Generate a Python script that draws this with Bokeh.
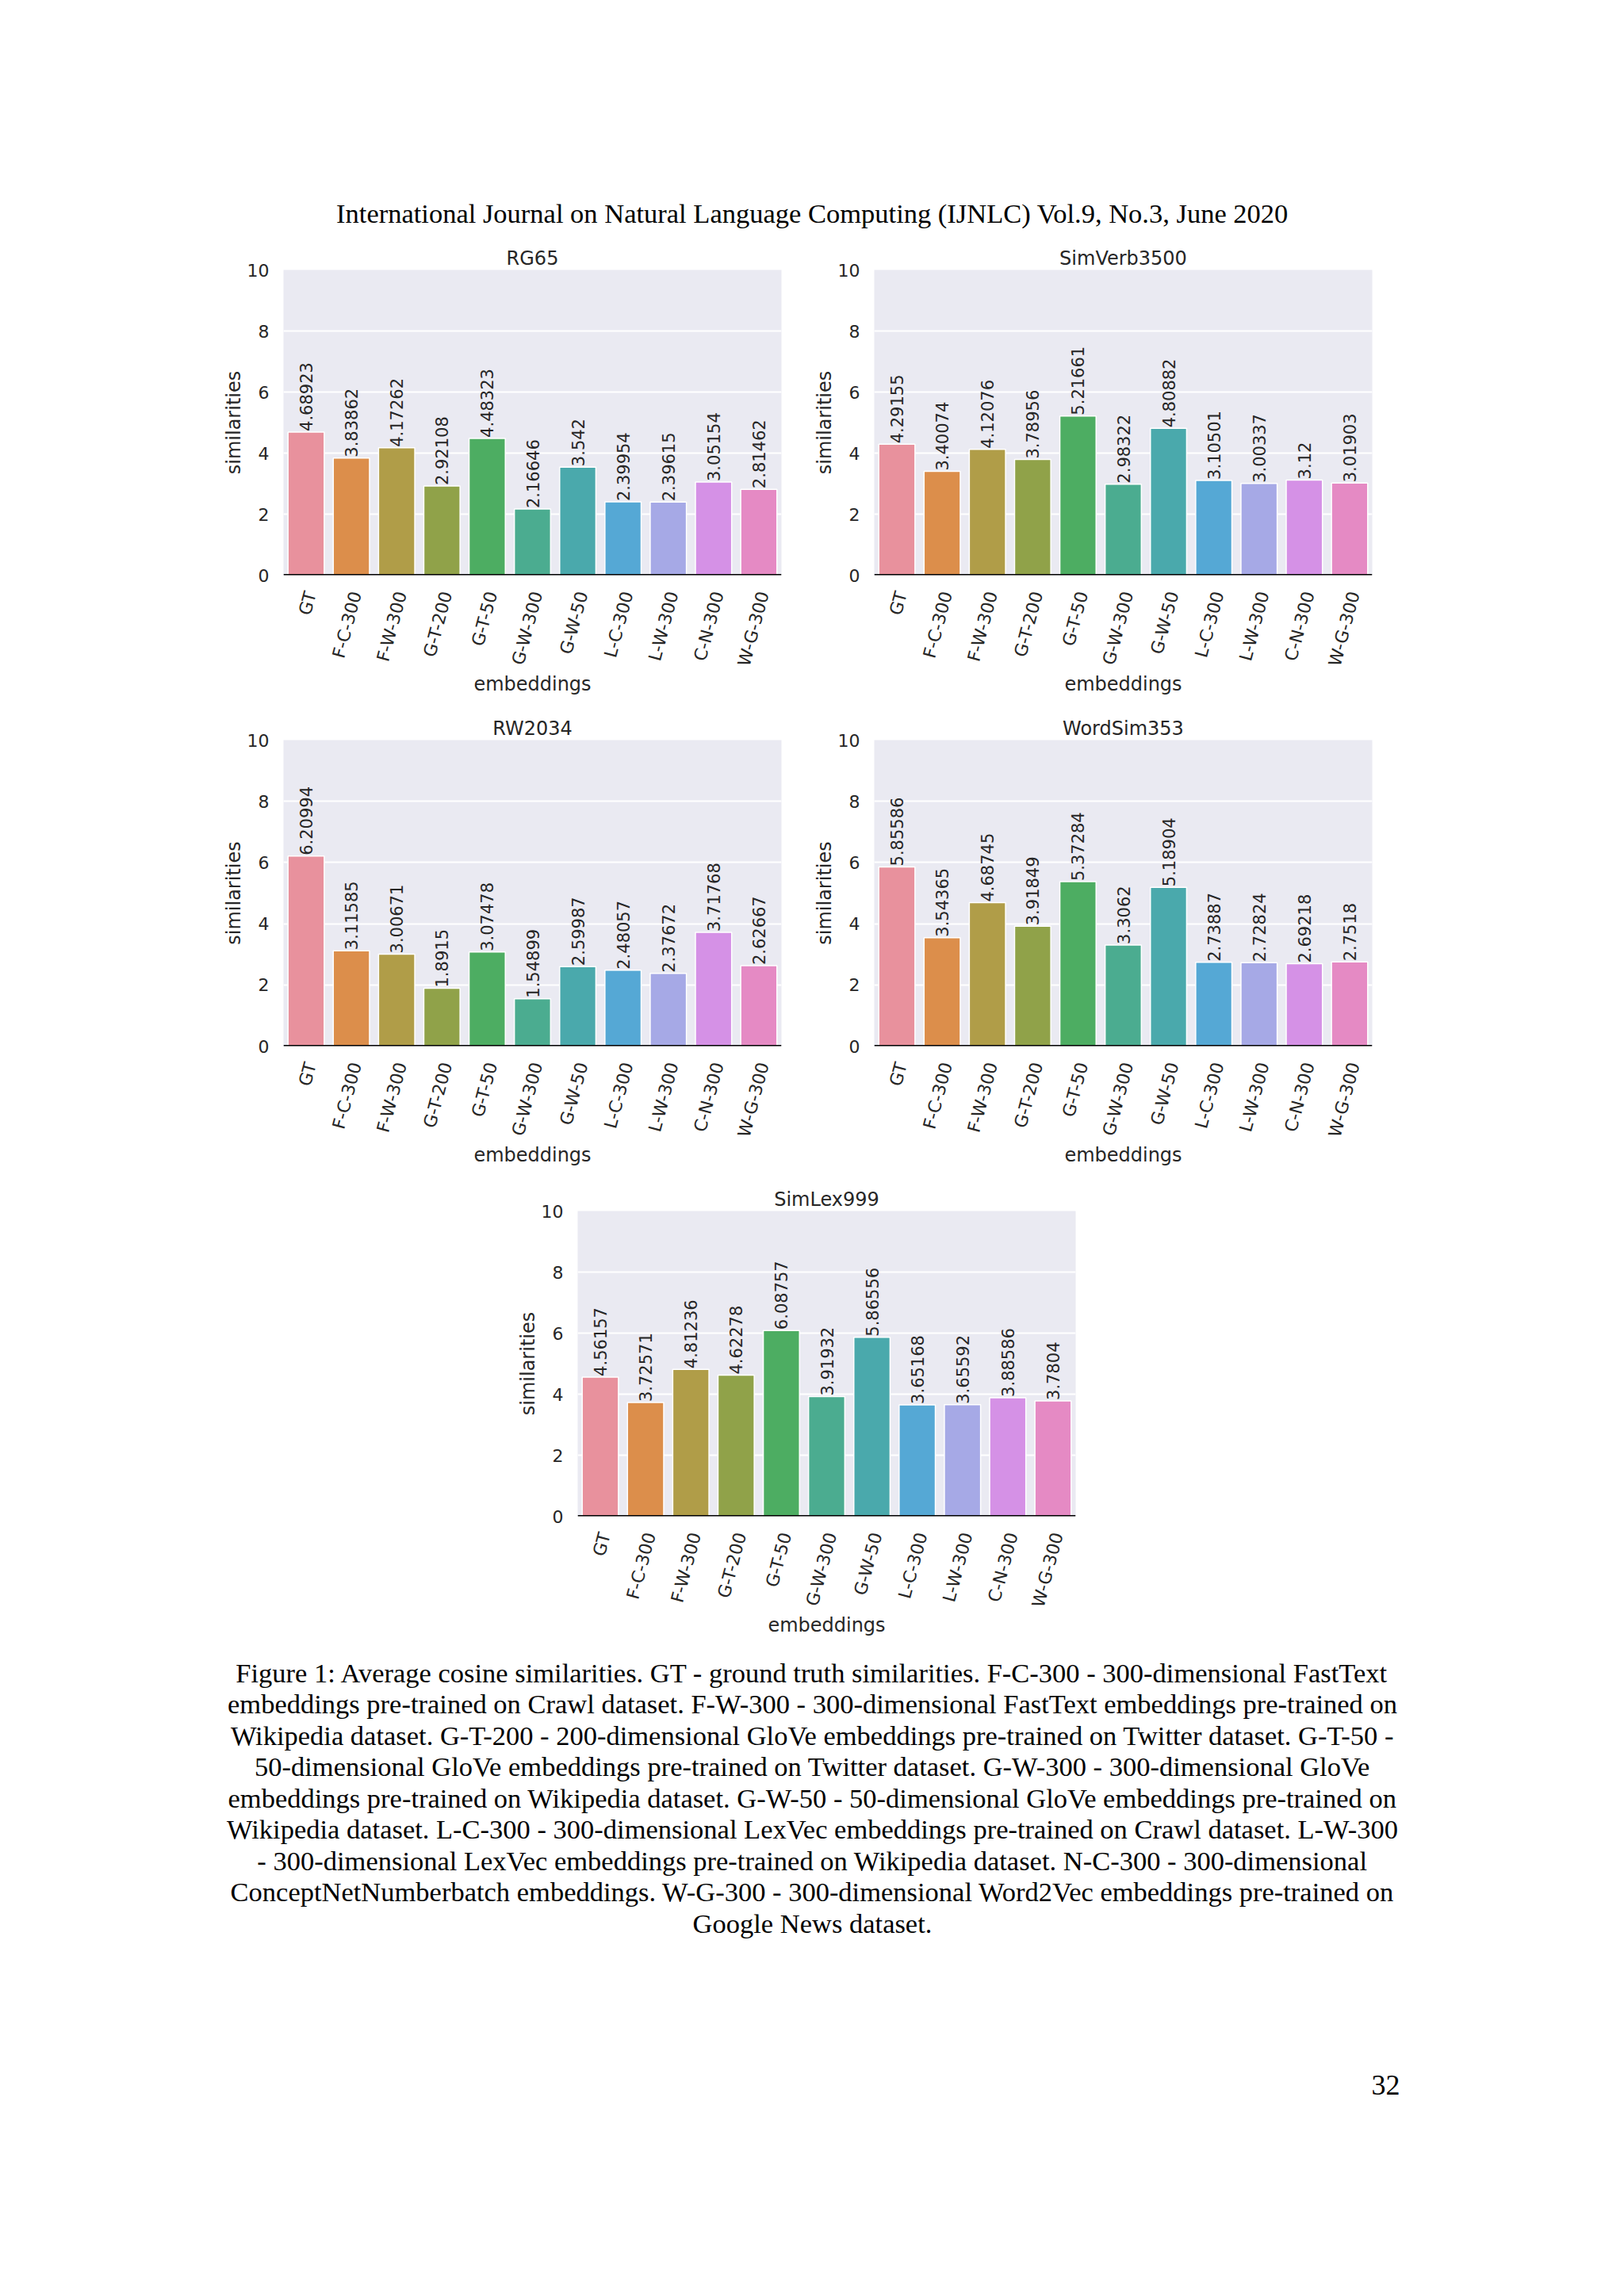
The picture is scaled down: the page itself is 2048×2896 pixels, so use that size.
import math
from bokeh.plotting import figure
from bokeh.models import Range1d, FixedTicker, CustomJSTickFormatter, Span, ColumnDataSource
from bokeh.layouts import column, row
from bokeh.embed import file_html
from bokeh.resources import INLINE
from bokeh.core.properties import value

# ---------------- data ----------------
embeddings = ["GT", "F-C-300", "F-W-300", "G-T-200", "G-T-50", "G-W-300",
              "G-W-50", "L-C-300", "L-W-300", "C-N-300", "W-G-300"]

rg65 = [4.68923, 3.83862, 4.17262, 2.92108, 4.48323, 2.16646,
        3.542, 2.39954, 2.39615, 3.05154, 2.81462]
simverb3500 = [4.29155, 3.40074, 4.12076, 3.78956, 5.21661, 2.98322,
               4.80882, 3.10501, 3.00337, 3.12, 3.01903]
rw2034 = [6.20994, 3.11585, 3.00671, 1.8915, 3.07478, 1.54899,
          2.59987, 2.48057, 2.37672, 3.71768, 2.62667]
wordsim353 = [5.85586, 3.54365, 4.68745, 3.91849, 5.37284, 3.3062,
              5.18904, 2.73887, 2.72824, 2.69218, 2.7518]
simlex999 = [4.56157, 3.72571, 4.81236, 4.62278, 6.08757, 3.91932,
             5.86556, 3.65168, 3.65592, 3.88586, 3.7804]

y_ticks = [0, 2, 4, 6, 8, 10]

header_text = "International Journal on Natural Language Computing (IJNLC) Vol.9, No.3, June 2020"
caption_lines = [
    "Figure 1: Average cosine similarities. GT - ground truth similarities. F-C-300 - 300-dimensional FastText",
    "embeddings pre-trained on Crawl dataset. F-W-300 - 300-dimensional FastText embeddings pre-trained on",
    "Wikipedia dataset. G-T-200 - 200-dimensional GloVe embeddings pre-trained on Twitter dataset. G-T-50 -",
    "50-dimensional GloVe embeddings pre-trained on Twitter dataset. G-W-300 - 300-dimensional GloVe",
    "embeddings pre-trained on Wikipedia dataset. G-W-50 - 50-dimensional GloVe embeddings pre-trained on",
    "Wikipedia dataset. L-C-300 - 300-dimensional LexVec embeddings pre-trained on Crawl dataset. L-W-300",
    "- 300-dimensional LexVec embeddings pre-trained on Wikipedia dataset. N-C-300 - 300-dimensional",
    "ConceptNetNumberbatch embeddings. W-G-300 - 300-dimensional Word2Vec embeddings pre-trained on",
    "Google News dataset.",
]
page_number = "32"

# ---------------- style ----------------
bar_colors = ["#E8919D", "#DC8E4B", "#B09D48", "#90A249", "#4DAD62", "#4BAC90",
              "#4AA9AC", "#55A8D5", "#A6A9E6", "#D591E6", "#E58AC4"]
SANS = "DejaVu Sans"
SERIF = "Liberation Serif"
TXT = "#262626"
BG = "#EAEAF2"
PAGE_W = 2032
TICK_SHIFT = 0.1


def make_chart(title, vals, left, right, top, bottom, fw, fh):
    n = len(embeddings)
    p = figure(width=left + fw + right, height=top + fh + bottom,
               x_range=Range1d(-0.5, n - 0.5), y_range=Range1d(0, 10),
               output_backend="svg", toolbar_location=None,
               min_border_left=left, min_border_right=right,
               min_border_top=top, min_border_bottom=bottom)
    p.background_fill_color = BG
    p.border_fill_color = "white"
    p.outline_line_color = None

    p.title.text = title
    p.title.align = "center"
    p.title.text_font = SANS
    p.title.text_font_size = "24px"
    p.title.text_font_style = "normal"
    p.title.text_color = TXT
    p.title.standoff = 2

    src = ColumnDataSource(dict(x=list(range(n)), top=vals, color=bar_colors,
                                label=[str(v) for v in vals]))
    p.vbar(x="x", top="top", bottom=0, width=0.8, fill_color="color",
           line_color="white", line_width=1.5, source=src)
    p.text(x="x", y="top", text="label", angle=math.pi / 2, text_align="left",
           text_baseline="middle", text_font=value(SANS), text_font_size="21px",
           text_color=TXT, y_offset=-1, source=src)
    p.add_layout(Span(location=0, dimension="width", line_color="black", line_width=3))

    p.xgrid.visible = False
    p.ygrid.ticker = FixedTicker(ticks=y_ticks)
    p.ygrid.grid_line_color = "white"
    p.ygrid.grid_line_width = 2

    ya = p.yaxis[0]
    ya.ticker = FixedTicker(ticks=y_ticks)
    ya.axis_line_color = None
    ya.major_tick_line_color = None
    ya.major_tick_out = 0
    ya.major_tick_in = 0
    ya.minor_tick_line_color = None
    ya.minor_tick_out = 0
    ya.major_label_text_font = SANS
    ya.major_label_text_font_size = "22px"
    ya.major_label_text_color = TXT
    ya.major_label_standoff = 18
    ya.axis_label = "similarities"
    ya.axis_label_text_font = SANS
    ya.axis_label_text_font_size = "24px"
    ya.axis_label_text_font_style = "normal"
    ya.axis_label_text_color = TXT
    ya.axis_label_standoff = 0

    xa = p.xaxis[0]
    xa.ticker = FixedTicker(ticks=[i + TICK_SHIFT for i in range(n)])
    xa.formatter = CustomJSTickFormatter(args=dict(labels=embeddings, shift=TICK_SHIFT),
                                         code="return labels[Math.round(tick - shift)];")
    xa.major_label_orientation = math.radians(75)
    xa.axis_line_color = None
    xa.major_tick_line_color = None
    xa.major_tick_out = 0
    xa.major_tick_in = 0
    xa.minor_tick_line_color = None
    xa.minor_tick_out = 0
    xa.major_label_text_font = SANS
    xa.major_label_text_font_size = "22px"
    xa.major_label_text_color = TXT
    xa.major_label_standoff = 21
    xa.axis_label = "embeddings"
    xa.axis_label_text_font = SANS
    xa.axis_label_text_font_size = "24px"
    xa.axis_label_text_font_style = "normal"
    xa.axis_label_text_color = TXT
    xa.axis_label_standoff = 0
    return p


def text_fig(h):
    p = figure(width=PAGE_W, height=h, x_range=Range1d(0, PAGE_W), y_range=Range1d(h, 0),
               output_backend="svg", toolbar_location=None, min_border=0)
    p.axis.visible = False
    p.grid.visible = False
    p.outline_line_color = None
    p.background_fill_color = "white"
    p.border_fill_color = "white"
    return p


FW = 628
HEAD_H = 300
ROW1_H, ROW2_H, ROW3_H = 595, 595, 590
L_LEFT, R_LEFT, C_LEFT = 357, 100, 728   # left borders of the left / right / centre charts

# header
head = text_fig(HEAD_H)
head.text(x=[1024], y=[268], text=[header_text], text_align="center", text_baseline="middle",
          text_font=value(SERIF), text_font_size="34.5px", text_color="black")

# chart rows
r1a = make_chart("RG65", rg65, L_LEFT, 1002 - L_LEFT - FW, 40, 170, FW, 385)
r1b = make_chart("SimVerb3500", simverb3500, R_LEFT, 1030 - R_LEFT - FW, 40, 170, FW, 385)
r2a = make_chart("RW2034", rw2034, L_LEFT, 1002 - L_LEFT - FW, 38, 171, FW, 386)
r2b = make_chart("WordSim353", wordsim353, R_LEFT, 1030 - R_LEFT - FW, 38, 171, FW, 386)
r3 = make_chart("SimLex999", simlex999, C_LEFT, PAGE_W - C_LEFT - FW, 37, 168, FW, 385)

# caption + page number
top_used = HEAD_H + ROW1_H + ROW2_H + ROW3_H
CAP_H = 2870 - top_used
cap = text_fig(CAP_H)
CAP_Y0 = 2109 - top_used
cap.text(x=[1024] * len(caption_lines), y=[CAP_Y0 + 39.5 * i for i in range(len(caption_lines))],
         text=caption_lines, text_align="center", text_baseline="middle",
         text_font=value(SERIF), text_font_size="34.5px", text_color="black")
cap.text(x=[1765], y=[2629 - top_used], text=[page_number], text_align="right",
         text_baseline="middle", text_font=value(SERIF), text_font_size="36px",
         text_color="black")

layout = column(row(head), row(r1a, r1b), row(r2a, r2b), row(r3), row(cap))

with open("out.html", "w") as f:
    f.write(file_html(layout, INLINE))
